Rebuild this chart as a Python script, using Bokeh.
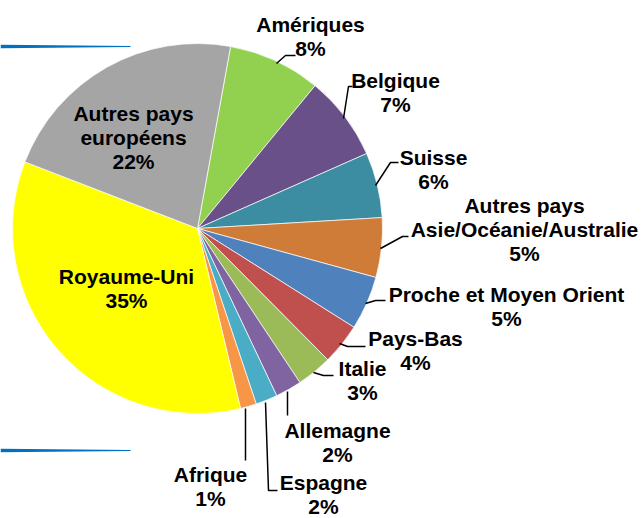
import math
from bokeh.plotting import figure
from bokeh.models import Range1d, ColumnDataSource
from bokeh.core.properties import value
from bokeh.embed import file_html
from bokeh.resources import INLINE

# ---- data (clockwise order, starting after the top) ----
categories = ["Amériques", "Belgique", "Suisse", "Autres pays\nAsie/Océanie/Australie",
              "Proche et Moyen Orient", "Pays-Bas", "Italie", "Allemagne", "Espagne",
              "Afrique", "Royaume-Uni", "Autres pays\neuropéens"]
shares = [8.1, 7.4, 5.7, 5.2, 4.7, 3.6, 3.1, 2.3, 1.9, 1.4, 34.6, 22.0]
pct_labels = ["8%", "7%", "6%", "5%", "5%", "4%", "3%", "2%", "2%", "1%", "35%", "22%"]
colors = ["#92D050", "#6A5088", "#3C8CA2", "#CF7C38", "#4F81BD", "#C0504D",
          "#9BBB59", "#8064A2", "#4BACC6", "#F79646", "#FFFF00", "#A5A5A5"]

# ---- layout (image pixel coordinates) ----
W, H = 641, 518
def Y(y):
    return H - y

cx, cy, R = 197, 228, 185
start_deg = 10.3  # clockwise from 12 o'clock

label_pos = [(310, 24), (395, 80), (433, 157), (524, 205), (506, 294), (415, 338),
             (362, 368), (337, 430), (323, 482), (210, 474), (126, 276), (133, 113)]
line_h = 24

leaders = [
    [(276, 63), (285, 55), (295, 55)],
    [(343, 118), (348, 86), (352, 86)],
    [(375, 185), (390, 162), (398, 162)],
    [(380, 248), (402, 236), (408, 236)],
    [(365, 303), (375, 300), (385, 300)],
    [(339, 343), (347, 346), (365, 346)],
    [(313, 372), (323, 375), (333, 375)],
    [(287, 391), (287, 415)],
    [(265, 402), (268, 490), (277, 490)],
    [(245, 408), (245, 460)],
]

p = figure(width=W, height=H, output_backend="svg", toolbar_location=None,
           x_range=Range1d(0, W), y_range=Range1d(0, H), min_border=0)
p.axis.visible = False
p.grid.visible = False
p.outline_line_color = None
p.background_fill_color = "white"

# decorative blue rules
for yy in (46, 450):
    p.patch([0, 130, 130, 0], [Y(yy - 1.8), Y(yy - 0.4), Y(yy + 0.4), Y(yy + 1.8)],
            color="#0070C0", line_color=None)

# wedges
total = sum(shares)
starts, ends = [], []
acc = start_deg
for s in shares:
    a0 = acc
    a1 = acc + s / total * 360.0
    starts.append(math.radians(90 - a0))
    ends.append(math.radians(90 - a1))
    acc = a1
src = ColumnDataSource(dict(start=starts, end=ends, color=colors))
p.wedge(x=cx, y=Y(cy), radius=R, start_angle="start", end_angle="end",
        direction="clock", fill_color="color", line_color="white", line_width=0.7,
        source=src)

# leader lines
for pts in leaders:
    p.line([q[0] for q in pts], [Y(q[1]) for q in pts], line_color="black", line_width=1.5)

# labels
tx, ty, tt = [], [], []
for cat, pct, (lx, ly) in zip(categories, pct_labels, label_pos):
    lines = cat.split("\n") + [pct]
    for i, ln in enumerate(lines):
        tx.append(lx)
        ty.append(Y(ly + i * line_h))
        tt.append(ln)
p.text(x=tx, y=ty, text=tt, text_align="center", text_baseline="middle",
       text_font=value("Liberation Sans"), text_font_style="bold",
       text_font_size="21px", text_color="black")

open("out.html", "w").write(file_html(p, INLINE))
